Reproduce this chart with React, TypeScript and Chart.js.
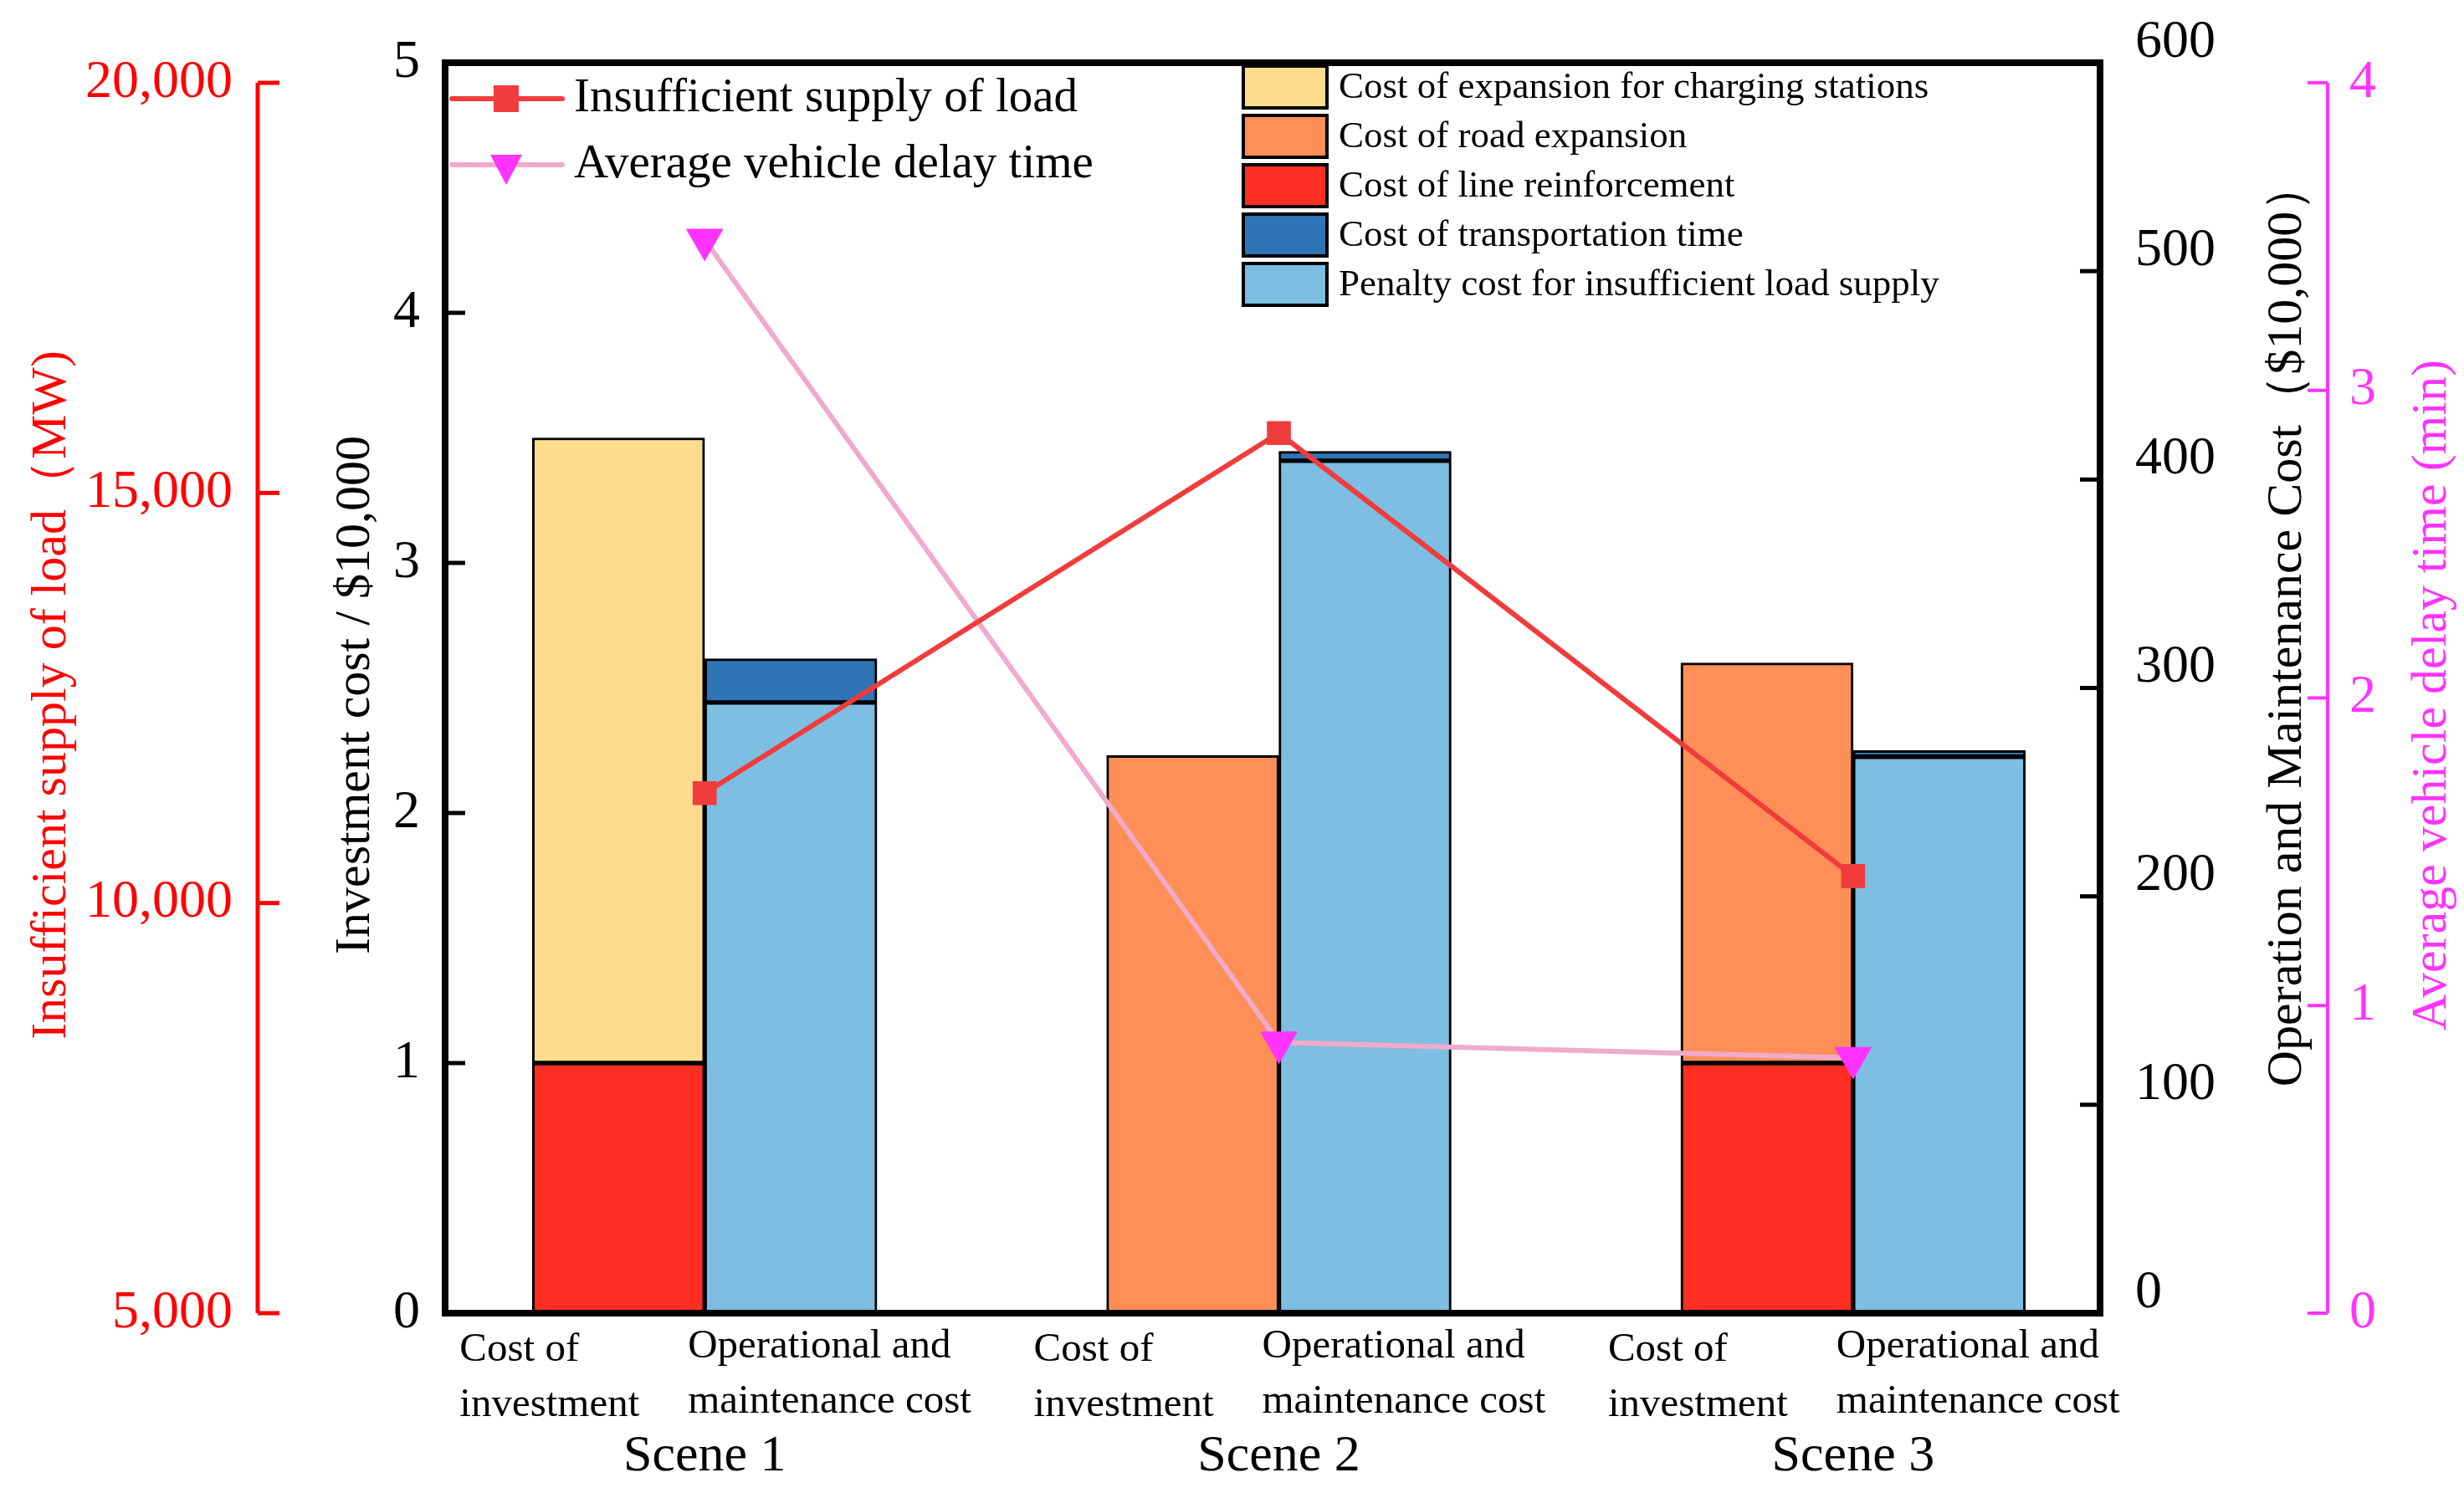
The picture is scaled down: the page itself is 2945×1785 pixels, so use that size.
import React, { useEffect, useRef } from "react";
import { Chart, registerables } from "chart.js";
Chart.register(...registerables);

const sceneLabels = ["Scene 1", "Scene 2", "Scene 3"];
const sceneX = [0, 1, 2];
const invLabel = ["Cost of", "investment"];
const omLabel = ["Operational and", "maintenance cost"];
// investment (left axis, $10,000)
const lineReinforcement = [1.0, 0, 1.0];
const roadExpansion = [0, 2.23, 1.6];
const chargingExpansion = [2.5, 0, 0];
// O&M (right axis, $10,000)
const penaltyCost = [293, 409, 267];
const transportCost = [21, 4.5, 3];
// lines
const insufficientLoad = [11340, 15730, 10330];
const delayTime = [3.49, 0.88, 0.83];
// ticks
const invTicks = [0, 1, 2, 3, 4, 5];
const omTicks = [0, 100, 200, 300, 400, 500, 600];
const loadTicks = [5000, 10000, 15000, 20000];
const delayTicks = [0, 1, 2, 3, 4];

const C = {
  charging: "#FEDC8E", road: "#FF8F57", line: "#FF2E22", transport: "#2F74B5", penalty: "#7DBEE2",
  red: "#FF0000", mag: "#FF33FF",
};
const FONT = "'Liberation Serif', 'DejaVu Serif', serif";
const OFF = 0.15;

function pts(vals: number[], dx: number) {
  return vals.map((v, i) => (v ? { x: sceneX[i] + dx, y: v } : null)).filter(Boolean) as any[];
}

export default function App() {
  const ref = useRef<HTMLCanvasElement>(null);
  useEffect(() => {
    const barBase = { type: "bar" as const, borderColor: "#000", borderWidth: 3, barPercentage: 1, categoryPercentage: 1, stack: "a", order: 2, borderSkipped: false };
    const custom = {
      id: "custom",
      afterDraw(chart: any) {
        const ctx = chart.ctx;
        const s = chart.scales;
        const a = chart.chartArea;
        ctx.save();
        ctx.strokeStyle = "#000";
        ctx.lineWidth = 8;
        ctx.strokeRect(a.left, a.top, a.right - a.left, a.bottom - a.top);
        ctx.textBaseline = "middle";
        ctx.font = `64px ${FONT}`;
        ctx.lineWidth = 5;
        ctx.fillStyle = "#000";
        ctx.textAlign = "right";
        invTicks.forEach((v) => {
          const y = s.y.getPixelForValue(v);
          ctx.beginPath(); ctx.moveTo(a.left, y); ctx.lineTo(a.left + 24, y); ctx.stroke();
          ctx.fillText(String(v), a.left - 30, y);
        });
        ctx.textAlign = "left";
        omTicks.forEach((v) => {
          const y = s.y2.getPixelForValue(v);
          ctx.beginPath(); ctx.moveTo(a.right, y); ctx.lineTo(a.right - 24, y); ctx.stroke();
          ctx.fillText(String(v), a.right + 42, y - 24);
        });
        const rx = s.yr.right;
        const rTop = s.yr.getPixelForValue(20000);
        ctx.strokeStyle = C.red; ctx.fillStyle = C.red; ctx.lineWidth = 5;
        ctx.beginPath(); ctx.moveTo(rx, rTop); ctx.lineTo(rx, a.bottom); ctx.stroke();
        ctx.textAlign = "right";
        loadTicks.forEach((v) => {
          const y = s.yr.getPixelForValue(v);
          ctx.beginPath(); ctx.moveTo(rx, y); ctx.lineTo(rx + 26, y); ctx.stroke();
          ctx.fillText(v.toLocaleString("en-US"), rx - 30, y);
        });
        const mx = s.ym.left;
        const mTop = s.ym.getPixelForValue(4);
        ctx.strokeStyle = C.mag; ctx.fillStyle = C.mag; ctx.lineWidth = 4;
        ctx.beginPath(); ctx.moveTo(mx, mTop); ctx.lineTo(mx, a.bottom); ctx.stroke();
        ctx.textAlign = "left";
        delayTicks.forEach((v) => {
          const y = s.ym.getPixelForValue(v);
          ctx.beginPath(); ctx.moveTo(mx, y); ctx.lineTo(mx - 24, y); ctx.stroke();
          ctx.fillText(String(v), mx + 26, y);
        });
        const vTitle = (t: string, x: number, y: number, color: string) => {
          ctx.save(); ctx.translate(x, y); ctx.rotate(-Math.PI / 2);
          ctx.textAlign = "center"; ctx.fillStyle = color; ctx.font = `60px ${FONT}`;
          ctx.fillText(t, 0, 0); ctx.restore();
        };
        vTitle("Insufficient supply of load（MW)", 62, 831, C.red);
        vTitle("Investment cost / $10,000", 425, 831, "#000");
        vTitle("Operation and Maintenance Cost（$10,000）", 2734, 746, "#000");
        vTitle("Average vehicle delay time (min)", 2907, 831, C.mag);
        ctx.fillStyle = "#000"; ctx.font = `49px ${FONT}`; ctx.textAlign = "left";
        sceneX.forEach((sx) => {
          const ix = s.x.getPixelForValue(sx - OFF);
          const ox = s.x.getPixelForValue(sx + OFF);
          invLabel.forEach((t, k) => ctx.fillText(t, ix - 190, 1614 + k * 66));
          omLabel.forEach((t, k) => ctx.fillText(t, ox - 123, 1610 + k * 66));
        });
        ctx.font = `62px ${FONT}`; ctx.textAlign = "center";
        sceneX.forEach((sx, i) => ctx.fillText(sceneLabels[i], s.x.getPixelForValue(sx), 1742));
        const lineLeg = (y: number, color: string, mcolor: string, tri: boolean, text: string) => {
          ctx.strokeStyle = color; ctx.lineWidth = 6; ctx.lineCap = "round";
          ctx.beginPath(); ctx.moveTo(540, y); ctx.lineTo(672, y); ctx.stroke();
          ctx.fillStyle = mcolor;
          if (tri) { ctx.beginPath(); ctx.moveTo(586, y - 12); ctx.lineTo(624, y - 12); ctx.lineTo(605, y + 24); ctx.closePath(); ctx.fill(); }
          else ctx.fillRect(590, y - 16, 30, 32);
          ctx.fillStyle = "#000"; ctx.font = `57px ${FONT}`; ctx.textAlign = "left";
          ctx.fillText(text, 686, y);
        };
        lineLeg(118, "#F03C3C", "#F03C3C", false, "Insufficient supply of load");
        lineLeg(197, "#F0AACB", C.mag, true, "Average vehicle delay time");
        const items: [string, string][] = [
          [C.charging, "Cost of expansion for charging stations"],
          [C.road, "Cost of road expansion"],
          [C.line, "Cost of line reinforcement"],
          [C.transport, "Cost of transportation time"],
          [C.penalty, "Penalty cost for insufficient load supply"],
        ];
        items.forEach(([c, t], k) => {
          const y = 79 + k * 59;
          ctx.fillStyle = c; ctx.fillRect(1486, y, 100, 50);
          ctx.strokeStyle = "#000"; ctx.lineWidth = 4; ctx.strokeRect(1486, y, 100, 50);
          ctx.fillStyle = "#000"; ctx.font = `45px ${FONT}`; ctx.textAlign = "left";
          ctx.fillText(t, 1600, y + 26);
        });
        ctx.restore();
      },
    };
    const hidden = { display: false, grid: { display: false }, border: { display: false }, ticks: { display: false } };
    const chart = new Chart(ref.current!, {
      type: "bar",
      data: {
        datasets: [
          { ...barBase, label: "Cost of line reinforcement", data: pts(lineReinforcement, -OFF), backgroundColor: C.line, yAxisID: "y" },
          { ...barBase, label: "Cost of road expansion", data: pts(roadExpansion, -OFF), backgroundColor: C.road, yAxisID: "y" },
          { ...barBase, label: "Cost of expansion for charging stations", data: pts(chargingExpansion, -OFF), backgroundColor: C.charging, yAxisID: "y" },
          { ...barBase, label: "Penalty cost for insufficient load supply", data: pts(penaltyCost, OFF), backgroundColor: C.penalty, yAxisID: "y2" },
          { ...barBase, label: "Cost of transportation time", data: pts(transportCost, OFF), backgroundColor: C.transport, yAxisID: "y2" },
          { type: "line", label: "Average vehicle delay time", data: delayTime.map((v, i) => ({ x: sceneX[i], y: v })), yAxisID: "ym", borderColor: "#F0AACB", borderWidth: 6, pointStyle: "triangle", rotation: 180, pointRadius: 20, pointBackgroundColor: C.mag, pointBorderColor: C.mag, order: 1 } as any,
          { type: "line", label: "Insufficient supply of load", data: insufficientLoad.map((v, i) => ({ x: sceneX[i], y: v })), yAxisID: "yr", borderColor: "#F03C3C", borderWidth: 6, pointStyle: "rect", pointRadius: 16, pointBackgroundColor: "#F03C3C", pointBorderColor: "#F03C3C", order: 0 } as any,
        ],
      },
      options: {
        animation: false,
        responsive: true,
        maintainAspectRatio: false,
        layout: { padding: { top: 75, left: 0, right: 0, bottom: 0 } },
        plugins: { legend: { display: false }, tooltip: { enabled: false } },
        scales: {
          x: { type: "linear", min: -0.452, max: 2.43, offset: false, stacked: true, ...hidden, display: true, afterFit: (sc: any) => { sc.height = 215; } } as any,
          y: { position: "left", min: 0, max: 5, stacked: true, weight: 0, ...hidden, display: true, afterFit: (sc: any) => { sc.width = 224; } } as any,
          yr: { position: "left", min: 5000, max: 20245, weight: 1, ...hidden, display: true, afterFit: (sc: any) => { sc.width = 308; } } as any,
          y2: { position: "right", min: 0, max: 600, stacked: true, weight: 0, ...hidden, display: true, afterFit: (sc: any) => { sc.width = 272; } } as any,
          ym: { position: "right", min: 0, max: 4.065, weight: 1, ...hidden, display: true, afterFit: (sc: any) => { sc.width = 163; } } as any,
        },
      },
      plugins: [custom],
    });
    return () => chart.destroy();
  }, []);
  return (
    <div style={{ position: "fixed", left: 0, top: 0, width: 2945, height: 1785, background: "#fff" }}>
      <canvas ref={ref} />
    </div>
  );
}
